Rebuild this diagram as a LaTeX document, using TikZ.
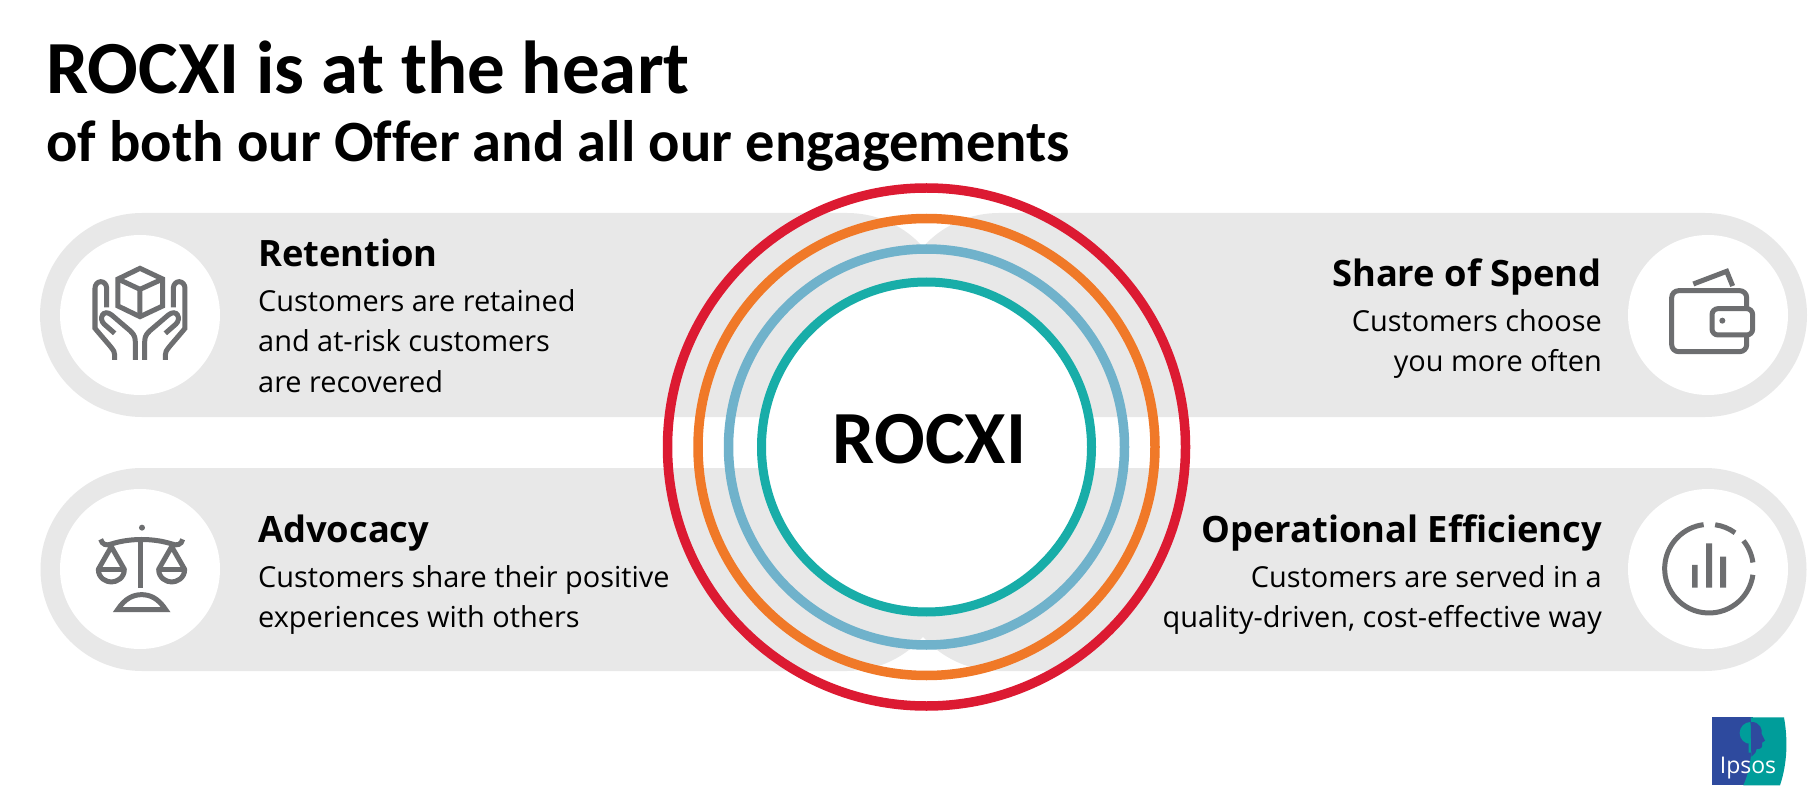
\documentclass[tikz,border=0pt]{standalone}
\usepackage{fontspec}
\setmainfont{Open Sans}
\newfontfamily\titlefont[Ligatures=NoCommon]{Carlito}
\definecolor{pill}{HTML}{E8E8E8}
\definecolor{ink}{HTML}{6D6E70}
\definecolor{ringred}{HTML}{DC1A32}
\definecolor{ringorange}{HTML}{F07928}
\definecolor{ringblue}{HTML}{70B2CB}
\definecolor{ringteal}{HTML}{18ADA8}
\definecolor{logoblue}{HTML}{2E4A9E}
\definecolor{logoteal}{HTML}{009D9A}
\tikzset{
 title/.style={anchor=base west,font=\titlefont\bfseries\fontsize{75}{75}\selectfont,inner sep=0pt},
 subtitle/.style={anchor=base west,font=\titlefont\bfseries\fontsize{58.5}{58.5}\selectfont,inner sep=0pt},
 headl/.style={anchor=base west,font=\bfseries\fontsize{36.3}{36.3}\selectfont,inner sep=0pt},
 headr/.style={anchor=base east,font=\bfseries\fontsize{36.3}{36.3}\selectfont,inner sep=0pt},
 bodyl/.style={anchor=base west,font=\fontsize{28.9}{28.9}\selectfont,inner sep=0pt},
 bodyr/.style={anchor=base east,font=\fontsize{28.9}{28.9}\selectfont,inner sep=0pt},
 icon/.style={draw=ink,line width=5pt,line join=miter,fill=none},
}
\begin{document}
\begin{tikzpicture}[x=1pt,y=-1pt]
\useasboundingbox (0,0) rectangle (1808,786);
\fill[white] (0,0) rectangle (1808,786);
% pills
\fill[pill] (142,213) -- (847,213) arc (-90:90:102) -- (142,417) arc (90:270:102) -- cycle;
\fill[pill] (142,468) -- (847,468) arc (-90:90:101.5) -- (142,671) arc (90:270:101.5) -- cycle;
\fill[pill] (999,213) -- (1705,213) arc (-90:90:102) -- (999,417) arc (90:270:102) -- cycle;
\fill[pill] (999,468) -- (1705,468) arc (-90:90:101.5) -- (999,671) arc (90:270:101.5) -- cycle;
\fill[white] (140,315) circle (80) (140,569) circle (80) (1708,315) circle (80) (1708,569) circle (80);
% rings
\fill[white] (926.5,447) circle (165);
\draw[ringred,line width=9.5pt] (926.5,447) circle (259);
\draw[ringorange,line width=9.5pt] (926.5,447) circle (228.5);
\draw[ringblue,line width=9.5pt] (926.5,447) circle (198);
\draw[ringteal,line width=9pt] (926.5,447) circle (165);
\node[anchor=base,font=\titlefont\bfseries\fontsize{75}{75}\selectfont,inner sep=0pt] (core) at (929.5,463) {ROCXI};
% title
\node[title] (t1) at (46,94) {ROCXI is at the heart};
\node[subtitle] (t2) at (46,162) {of both our Offer and all our engagements};
% texts
\node[headl] (h1) at (258,266.5) {Retention};
\node[bodyl] (b11) at (258,312) {Customers are retained};
\node[bodyl] (b12) at (258,352) {and at-risk customers};
\node[bodyl] (b13) at (258,392) {are recovered};
\node[headl] (h2) at (258,542.5) {Advocacy};
\node[bodyl] (b21) at (258,587.5) {Customers share their positive};
\node[bodyl] (b22) at (258,627.5) {experiences with others};
\node[headr] (h3) at (1602,286.5) {Share of Spend};
\node[bodyr] (b31) at (1602,331.5) {Customers choose};
\node[bodyr] (b32) at (1602,371.5) {you more often};
\node[headr] (h4) at (1602,542.5) {Operational Efficiency};
\node[bodyr] (b41) at (1602,587.5) {Customers are served in a};
\node[bodyr] (b42) at (1602,627.5) {quality-driven, cost-effective way};
% hands icon
\begin{scope}[shift={(30,200)},xscale=1/3,yscale=1/3]
\draw[icon] (330,205) -- (398,237) -- (398,318) -- (330,350) -- (264,318) -- (264,237) -- cycle;
\draw[icon] (264,237) -- (330,268) -- (398,237) (330,268) -- (330,350);
\foreach \s in {1,-1}{
\begin{scope}[shift={(330,0)},xscale=\s]
\draw[icon] (-76,480) -- (-76,465) .. controls (-76,450) and (-85,445) .. (-135,385) -- (-135,265) arc (180:360:17.5 and 20) -- (-100,322);
\draw[icon] (-76,400) -- (-108,372) .. controls (-125,355) and (-110,325) .. (-85,345) -- (-30,392) .. controls (-15,405) and (-14,415) .. (-14,430) -- (-14,480);
\end{scope}}
\end{scope}
% scales icon
\begin{scope}[shift={(30,200)},xscale=1/3,yscale=1/3]
\fill[ink] (336,983) circle (9);
\draw[icon] (212,1018) .. controls (216,1034) and (230,1038) .. (244,1032) .. controls (300,1014) and (370,1014) .. (426,1032) .. controls (440,1038) and (455,1034) .. (458,1018);
\draw[icon] (333,1018) -- (333,1163);
\foreach \c in {244,425}{
\draw[icon,line join=round] (\c,1040) -- (\c-39,1108) .. controls (\c-39,1135) and (\c-15,1146) .. (\c,1146) .. controls (\c+15,1146) and (\c+39,1135) .. (\c+39,1108) -- cycle;
\draw[icon] (\c-39,1108) -- (\c+39,1108);
}
\draw[icon] (263,1229) .. controls (285,1195) and (310,1184) .. (335,1184) .. controls (360,1184) and (385,1195) .. (407,1229) -- cycle;
\end{scope}
% wallet icon
\begin{scope}[shift={(1600,200)},xscale=1/3,yscale=1/3]
\draw[icon,rounded corners=7pt] (215,272) rectangle (440,455);
\draw[icon,fill=white,rounded corners=6pt] (336,326) -- (458,326) -- (458,405) -- (336,405) -- cycle;
\draw[icon] (280,252) -- (380,214) -- (398,258);
\fill[ink] (367,362) circle (9);
\end{scope}
% chart icon
\begin{scope}[shift={(1600,200)},xscale=1/3,yscale=1/3]
\draw[icon] (327,1106) ++(8:133) arc (8:263:133);
\draw[icon] (327,1106) ++(-82:133) arc (-82:-54:133);
\draw[icon] (327,1106) ++(-39:133) arc (-39:-8:133);
\fill[ink] (276,1095) rectangle (293,1163) (318,1030) rectangle (336,1163) (360,1070) rectangle (378,1163);
\end{scope}
% logo
\begin{scope}[shift={(1700,710)},xscale=1/3,yscale=1/3]
\fill[logoblue] (35,22) rectangle (160,226);
\fill[logoteal] (152,22) -- (252,22) .. controls (264,90) and (262,160) .. (240,226) -- (130,226) .. controls (155,170) and (160,100) .. (152,22) -- cycle;
\fill[logoteal] (152,36) arc (-90:-270:33) -- (146,102) -- (146,128) -- (156,128) -- cycle;
\fill[logoblue] (152,36) .. controls (180,34) and (188,60) .. (185,72) -- (195,92) -- (186,98) .. controls (188,110) and (186,118) .. (170,117) -- (166,128) -- (154,140) -- cycle;
\end{scope}
\node[anchor=base,text=white,font=\fontsize{23}{23}\selectfont,inner sep=0pt] (logo) at (1748,773) {Ipsos};
\end{tikzpicture}
\end{document}
